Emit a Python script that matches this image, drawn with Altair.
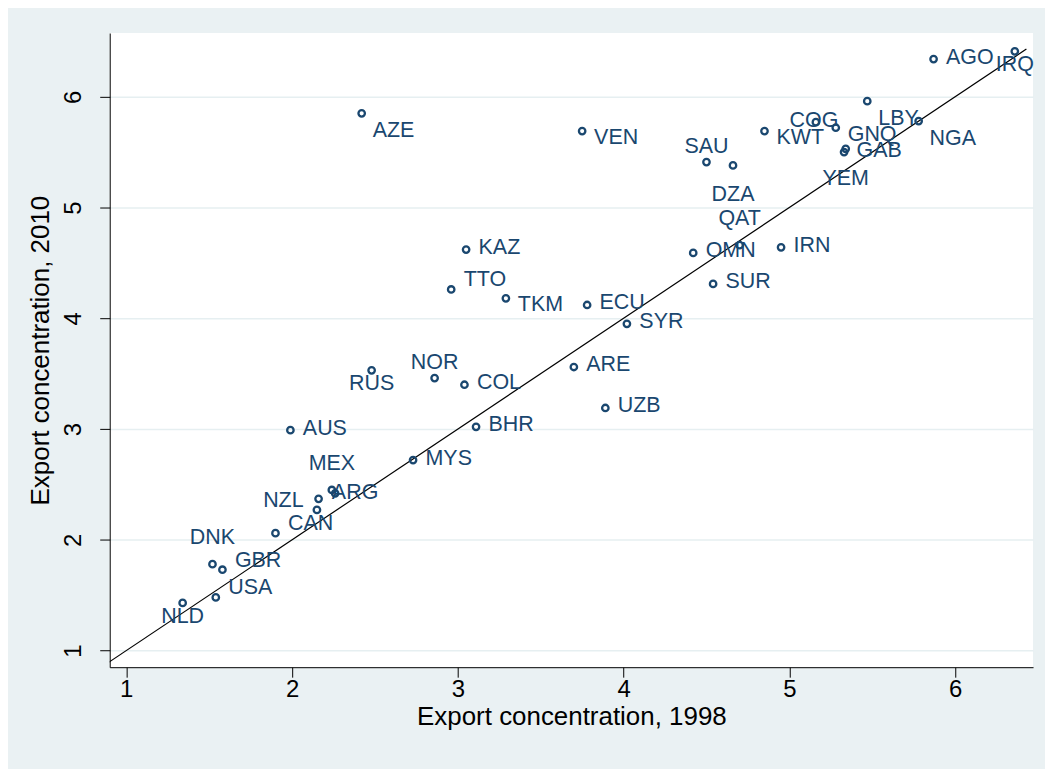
import altair as alt
import pandas as pd

countries = ["AZE", "KAZ", "TTO", "TKM", "AGO", "IRQ", "LBY", "VEN", "SAU", "DZA",
             "KWT", "COG", "GNQ", "NGA", "GAB", "YEM", "QAT", "OMN", "IRN", "SUR",
             "ECU", "SYR", "ARE", "UZB", "RUS", "NOR", "COL", "AUS", "BHR", "MYS",
             "MEX", "", "NZL", "ARG", "CAN", "DNK", "GBR", "USA", "NLD"]
exp_1998 = [2.42, 3.05, 2.96, 3.29, 5.87, 6.36, 5.47, 3.75, 4.50, 4.66,
            4.85, 5.16, 5.28, 5.78, 5.33, 5.34, 4.70, 4.42, 4.95, 4.54,
            3.78, 4.02, 3.70, 3.89, 2.48, 2.86, 3.04, 1.99, 3.11, 2.73,
            2.24, 2.26, 2.16, 2.15, 1.90, 1.52, 1.58, 1.54, 1.34]
exp_2010 = [5.85, 4.62, 4.26, 4.18, 6.34, 6.41, 5.96, 5.69, 5.41, 5.38,
            5.69, 5.77, 5.72, 5.78, 5.50, 5.53, 4.66, 4.59, 4.64, 4.31,
            4.12, 3.95, 3.56, 3.19, 3.53, 3.46, 3.40, 2.99, 3.02, 2.72,
            2.45, 2.42, 2.37, 2.27, 2.06, 1.78, 1.73, 1.48, 1.43]
# marker-label clock position of each country (as in Stata's mlabvposition)
label_pos = ["5", "3", "2", "4", "3", "6", "5", "4", "12", "6h",
             "4", "0", "4", "5", "3", "6h", "12h", "3", "3", "3",
             "3", "3", "3", "3", "6", "12", "3", "3", "3", "3",
             "12h", "3", "9", "1", "2", "12h", "2", "2", "6"]
ticks = [1, 2, 3, 4, 5, 6]
diag_ends = [0.85, 6.43]

NAVY = "#1A476F"
FONT = "Liberation Sans, Arial, sans-serif"
BG = "#EAF1F3"

df = pd.DataFrame({"country": countries, "x": exp_1998, "y": exp_2010, "pos": label_pos})
diag = pd.DataFrame({"x": diag_ends, "y": diag_ends})

x_scale = alt.Scale(domain=[0.9, 6.47], nice=False, zero=False)
y_scale = alt.Scale(domain=[0.85, 6.575], nice=False, zero=False)

x_axis = alt.Axis(values=ticks, format="d", title="Export concentration, 1998", grid=False,
                  tickSize=10, tickColor="black", domainColor="black",
                  labelFont=FONT, labelFontSize=24, labelColor="black", labelPadding=0,
                  titleFont=FONT, titleFontSize=26, titleFontWeight="normal",
                  titleColor="black", titlePadding=2)
y_axis = alt.Axis(values=ticks, format="d", title="Export concentration, 2010", grid=True,
                  gridColor="#E6EFF1", gridWidth=1.5,
                  tickSize=10, tickColor="black", domainColor="black",
                  labelFont=FONT, labelFontSize=24, labelColor="black",
                  labelAngle=-90, labelAlign="center", labelBaseline="bottom",
                  labelPadding=14,
                  titleFont=FONT, titleFontSize=26, titleFontWeight="normal",
                  titleColor="black", titlePadding=8)

base = alt.Chart(df)

points = base.mark_point(shape="circle", filled=False, size=42, strokeWidth=2.3,
                         color=NAVY, opacity=1).encode(
    x=alt.X("x:Q", scale=x_scale, axis=x_axis),
    y=alt.Y("y:Q", scale=y_scale, axis=y_axis),
)

line = alt.Chart(diag).mark_line(color="black", strokeWidth=1.2, clip=True).encode(
    x=alt.X("x:Q", scale=x_scale),
    y=alt.Y("y:Q", scale=y_scale),
)

offsets = {
    "3": (12.5, -1.5, "left"),
    "4": (12, 7, "left"),
    "5": (11, 18, "left"),
    "2": (12.5, -9, "left"),
    "1": (15, -17, "left"),
    "12": (0, -15, "center"),
    "12h": (0, -26, "center"),
    "6": (0, 14, "center"),
    "6h": (0, 30, "center"),
    "9": (-15, 2, "right"),
    "0": (-2, -1, "center"),
}

text_layers = []
for code, (dx, dy, align) in offsets.items():
    text_layers.append(
        base.transform_filter(alt.datum.pos == code).mark_text(
            dx=dx, dy=dy, align=align, baseline="middle",
            font=FONT, fontSize=21.5, color=NAVY,
        ).encode(
            x=alt.X("x:Q", scale=x_scale),
            y=alt.Y("y:Q", scale=y_scale),
            text="country:N",
        )
    )

chart = alt.layer(line, points, *text_layers).properties(
    width=926, height=636,
    autosize=alt.AutoSizeParams(type="none"),
    padding={"left": 102, "top": 24, "right": 12, "bottom": 101},
    background=BG,
).configure_view(fill="white", stroke=None)

chart.save("out.html", embed_options={"renderer": "svg", "actions": False})
